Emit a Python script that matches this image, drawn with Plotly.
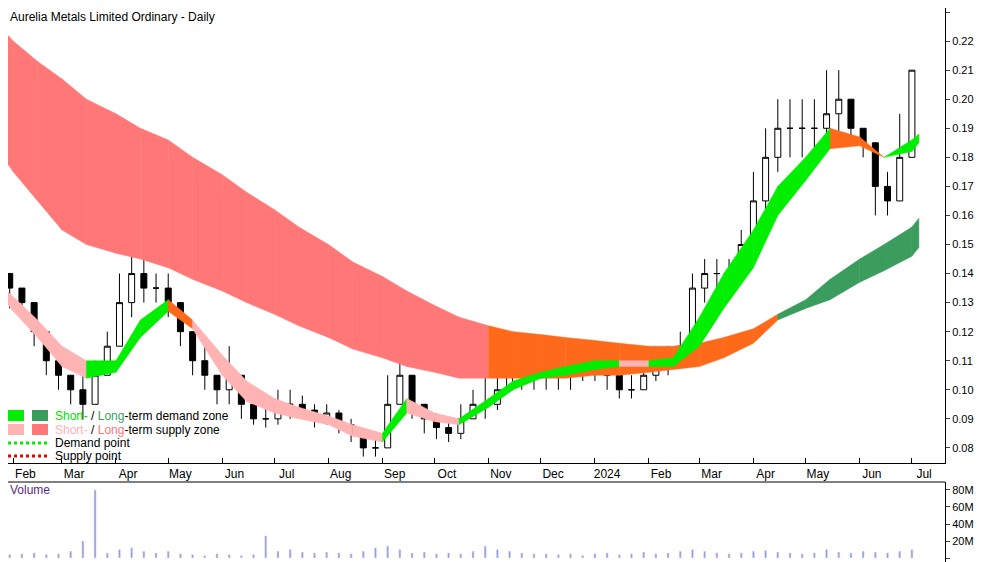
import plotly.graph_objects as go
import pandas as pd

weeks = pd.date_range("2023-01-23", periods=76, freq="W-MON")
close = [.14,.135,.13,.12,.11,.105,.10,.095,.105,.115,.13,.14,.135,.135,.13,.12,.11,.105,.10,
         .105,.095,.09,.09,.095,.095,.093,.09,.092,.088,.085,.08,.08,.095,.105,.095,.09,
         .087,.085,.09,.095,.095,.10,.105,.105,.105,.11,.105,.105,.11,.11,.105,.10,.10,.105,
         .11,.11,.115,.135,.14,.14,.14,.15,.165,.18,.19,.19,.19,.19,.195,.20,.19,.185,.17,.165,.18,.21]
high = [.147,.14,.135,.13,.12,.11,.105,.105,.11,.12,.14,.152,.145,.14,.14,.13,.12,.115,.105,
        .115,.105,.095,.095,.10,.10,.098,.095,.095,.093,.09,.085,.085,.105,.115,.105,.095,
        .092,.09,.095,.10,.105,.11,.12,.115,.115,.115,.115,.11,.115,.115,.115,.105,.105,.115,
        .115,.115,.12,.14,.145,.145,.145,.155,.175,.19,.20,.20,.20,.20,.21,.21,.20,.19,.18,.175,.195,.21]
low = [.133,.128,.125,.115,.105,.10,.095,.09,.095,.105,.115,.125,.13,.13,.125,.115,.105,.10,.095,
       .095,.09,.088,.087,.088,.09,.09,.087,.088,.085,.082,.077,.077,.08,.095,.09,.085,
       .083,.082,.083,.09,.09,.093,.10,.10,.10,.10,.10,.10,.103,.103,.10,.097,.097,.10,
       .103,.105,.108,.115,.13,.135,.135,.14,.15,.16,.175,.18,.18,.18,.185,.185,.185,.18,.16,.16,.165,.18]
first_open = .145
volume_m = [3,4,5,6,4,5,8,20,80,6,10,12,8,6,8,5,4,3,5,4,3,4,26,8,10,7,6,7,6,5,8,12,14,10,6,7,
            5,6,5,8,14,10,8,6,5,5,4,5,3,5,6,4,5,7,5,6,8,10,8,6,5,6,8,9,7,6,5,6,10,7,6,8,7,6,8,10]

band_dates = pd.to_datetime(["2023-01-23","2023-02-01","2023-02-15","2023-03-01","2023-03-15","2023-04-01",
    "2023-04-15","2023-05-01","2023-05-15","2023-06-01","2023-06-15","2023-07-01","2023-07-15","2023-08-01",
    "2023-08-15","2023-09-01","2023-09-15","2023-10-01","2023-10-15","2023-11-01","2023-11-15","2023-12-01",
    "2023-12-15","2024-01-01","2024-01-15","2024-02-01","2024-02-15","2024-03-01","2024-03-15","2024-04-01",
    "2024-04-15","2024-05-01","2024-05-15","2024-06-01","2024-06-15","2024-07-01","2024-07-05"])
long_top = [.226,.220,.213,.207,.200,.195,.190,.186,.180,.174,.168,.162,.156,.150,.144,.139,.134,.129,.125,
            .122,.120,.119,.118,.117,.116,.115,.115,.116,.118,.121,.126,.131,.138,.145,.150,.156,.159]
long_bot = [.183,.175,.165,.155,.150,.147,.145,.142,.138,.134,.130,.126,.122,.118,.114,.111,.108,.106,.104,
            .104,.104,.104,.104,.105,.105,.106,.107,.108,.111,.116,.124,.128,.131,.137,.141,.146,.149]
short_top = [.137,.132,.124,.115,.110,.110,.124,.131,.124,.112,.103,.097,.094,.091,.088,.085,.097,.092,.090,
             .097,.103,.106,.108,.110,.110,.110,.111,.125,.140,.155,.170,.180,.190,.187,.180,.186,.188]
short_bot = [.134,.127,.118,.108,.104,.106,.118,.127,.121,.105,.096,.092,.090,.088,.084,.082,.092,.089,.088,
             .094,.100,.104,.105,.107,.108,.108,.108,.115,.128,.142,.160,.172,.183,.184,.180,.182,.185]

fig = go.Figure()

def band(top, bot, colorfn):
    for i in range(len(band_dates) - 1):
        xs = [band_dates[i], band_dates[i+1], band_dates[i+1], band_dates[i], band_dates[i]]
        ys = [top[i], top[i+1], bot[i+1], bot[i], top[i]]
        c = colorfn(i)
        fig.add_trace(go.Scatter(x=xs, y=ys, fill="toself", fillcolor=c, mode="lines",
                                 line=dict(width=0.5, color=c), hoverinfo="skip", showlegend=False))

def long_color(i):
    d = (long_top[i+1] + long_bot[i+1]) - (long_top[i] + long_bot[i])
    if long_top[i] <= 0.122 and long_top[i] > 0.11 and d <= 0.001:
        return "#ff6a1a"
    if d < 0:
        return "#ff7777"
    if long_top[i] > 0.125:
        return "#3a9d5d"
    return "#ff6a1a"

def short_color(i):
    d = (short_top[i+1] + short_bot[i+1]) - (short_top[i] + short_bot[i])
    if d > 0:
        return "#00ee00"
    if short_top[i] > 0.185 or (0.125 < short_top[i] < 0.132):
        return "#ff6a1a"
    return "#ffb3b3"

band(long_top, long_bot, long_color)
band(short_top, short_bot, short_color)

opens = [first_open] + close[:-1]
fig.add_trace(go.Candlestick(x=weeks, open=opens, high=high, low=low, close=close,
    increasing=dict(line=dict(color="#000000", width=1), fillcolor="#ffffff"),
    decreasing=dict(line=dict(color="#000000", width=1), fillcolor="#000000"),
    whiskerwidth=0, showlegend=False, xaxis="x", yaxis="y"))

fig.add_trace(go.Bar(x=weeks, y=[v * 1e6 for v in volume_m], marker_color="#9999dd",
                     width=86400000 * 1.2, showlegend=False, xaxis="x2", yaxis="y2"))

xr = ["2023-01-29", "2024-07-20"]
months = pd.date_range("2023-02-01", "2024-07-01", freq="MS")
labels = ["2024" if m.month == 1 else m.strftime("%b") for m in months]
H = 554.0
fig.update_layout(
    width=992, height=554, margin=dict(l=0, r=55, t=0, b=0, autoexpand=False),
    plot_bgcolor="white", paper_bgcolor="white",
    font=dict(family="Liberation Sans, Arial", size=12, color="#000"),
    xaxis=dict(domain=[0, 1], range=xr, anchor="y", tickvals=[m + pd.Timedelta(days=7) for m in months],
               ticktext=labels, ticks="", showgrid=False, rangeslider=dict(visible=False),
               showline=True, linecolor="#000", linewidth=1, automargin=False,
               tickfont=dict(size=12, color="#000", family="Liberation Sans, Arial"),
               minor=dict(tickvals=list(months), ticks="inside", ticklen=5, tickcolor="#000")),
    yaxis=dict(domain=[1 - 455 / H, 1], range=[0.0748, 0.2314], side="right", dtick=0.01, tickformat=".2f",
               showgrid=False, ticks="outside", ticklen=4, showline=True, linecolor="#000",
               tickfont=dict(size=11), automargin=False),
    xaxis2=dict(domain=[0, 1], range=xr, anchor="y2", showticklabels=False, showgrid=False, automargin=False),
    yaxis2=dict(domain=[0, 80 / H], range=[-4.7e6, 89.4e6], side="right", tickvals=[0, 20e6, 40e6, 60e6, 80e6],
                ticktext=["0", "20M", "40M", "60M", "80M"], showgrid=False, ticks="outside", ticklen=4,
                showline=True, linecolor="#000", tickfont=dict(size=11), anchor="x2", automargin=False),
)

W = 937.0
def px(x): return max(x - 8, 0) / W
def py(y): return 1 - (y - 8) / H

anns = [dict(x=px(8), y=1, text="Aurelia Metals Limited Ordinary - Daily", font=dict(size=12), yanchor="top"),
        dict(x=px(8), y=py(490), text="Volume", font=dict(size=12, color="#5b2a86"))]
rows = [(416, "#00ee00", "#3a9d5d", "<span style='color:#00dd00'>Short-</span> / <span style='color:#3a9d5d'>Long</span>-term demand zone"),
        (430, "#ffb3b3", "#ff7777", "<span style='color:#ffb3b3'>Short-</span> / <span style='color:#ff7777'>Long</span>-term supply zone")]
shapes = []
for y, c1, c2, t in rows:
    shapes.append(dict(type="rect", xref="paper", yref="paper", x0=px(8), x1=px(24), y0=py(y+5), y1=py(y-6), fillcolor=c1, line_width=0))
    shapes.append(dict(type="rect", xref="paper", yref="paper", x0=px(32), x1=px(48), y0=py(y+5), y1=py(y-6), fillcolor=c2, line_width=0))
    anns.append(dict(x=px(53), y=py(y), text=t, font=dict(size=12), yanchor="middle"))
for y, c, t in [(443, "#00ee00", "Demand point"), (456, "#ee0000", "Supply point")]:
    shapes.append(dict(type="line", xref="paper", yref="paper", x0=px(8), x1=px(48), y0=py(y), y1=py(y), line=dict(color=c, width=3, dash="dot")))
    anns.append(dict(x=px(53), y=py(y), text=t, font=dict(size=12), yanchor="middle"))
shapes.append(dict(type="line", xref="paper", yref="paper", x0=0, x1=1, y0=py(482), y1=py(482), line=dict(color="#000", width=1)))
for a in anns:
    a.update(xref="paper", yref="paper", showarrow=False, xanchor="left")
    a.setdefault("yanchor", "middle")
fig.update_layout(annotations=anns, shapes=shapes)
fig.write_html("out.html")
